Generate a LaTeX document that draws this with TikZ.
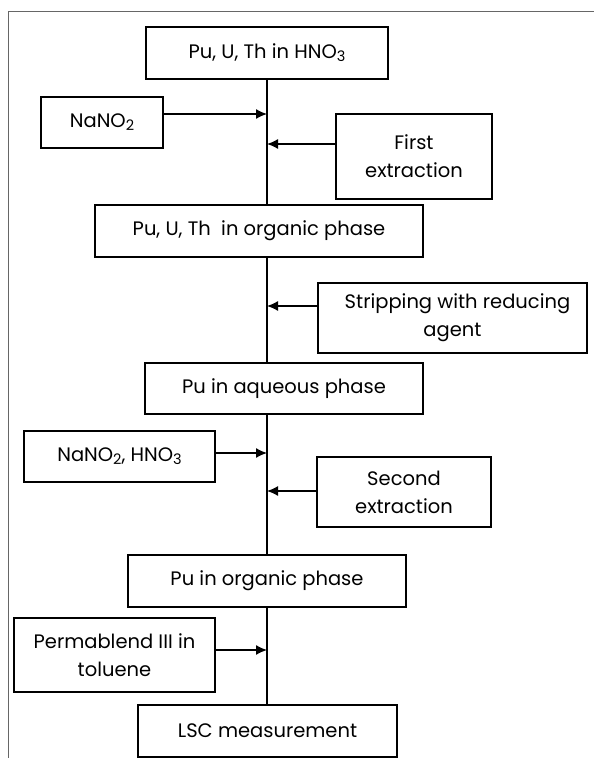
\documentclass[tikz,border=0pt]{standalone}
\usepackage{fontspec}
\setmainfont{Poppins}
\usetikzlibrary{arrows.meta}
\newcommand{\subn}[1]{\raisebox{-0.3ex}{\fontsize{14.5}{14.5}\selectfont #1}}
\begin{document}
\begin{tikzpicture}[x=1pt,y=-1pt,
  box/.style={draw=black, line width=1.2pt, minimum width=#1, inner sep=0pt, align=center,
    font=\fontsize{19.5}{28}\selectfont},
  flow/.style={line width=1.5pt},
  feed/.style={line width=1.3pt, -{Latex[length=11pt,width=10pt]}}]
\useasboundingbox (0,0) rectangle (594,758);
% frame
\draw[gray!80!black, line width=0.8pt] (8,758) -- (8,11) -- (594,11);
% boxes
\node[box=242pt, minimum height=52pt] (top) at (267,53) {Pu, U, Th in HNO\subn{3}};
\node[box=122pt, minimum height=51pt] (nano) at (102,122.5) {NaNO\subn{2}};
\node[box=156pt, minimum height=85pt] (first) at (414,156.5) {First\\extraction};
\node[box=328pt, minimum height=52pt] (org1) at (259,231) {Pu, U, Th \ in organic phase};
\node[box=269pt, minimum height=70pt] (strip) at (452.5,318) {\hspace*{10pt}Stripping with reducing\\agent};
\node[box=278pt, minimum height=51pt] (aq) at (284,388.5) {Pu in aqueous phase};
\node[box=191pt, minimum height=51pt] (nanh) at (119.5,456.5) {NaNO\subn{2}, HNO\subn{3}};
\node[box=174pt, minimum height=70pt] (second) at (404,492) {Second\\extraction};
\node[box=278pt, minimum height=52pt] (org2) at (267,581) {Pu in organic phase};
\node[box=201pt, minimum height=74pt] (perm) at (114.5,655) {Permablend III in\\toluene};
\node[box=259pt, minimum height=52pt] (lsc) at (267.5,731) {LSC measurement};
% main flow line
\draw[flow] (top.south) -- (top.south |- org1.north);
\draw[flow] (top.south |- org1.south) -- (top.south |- aq.north);
\draw[flow] (top.south |- aq.south) -- (top.south |- org2.north);
\draw[flow] (top.south |- org2.south) -- (top.south |- lsc.north);
% junction points
\coordinate (j1) at (267,114);
\coordinate (j2) at (267,144);
\coordinate (j3) at (267,306);
\coordinate (j4) at (267,453);
\coordinate (j5) at (267,491);
\coordinate (j6) at (267,650);
\draw[feed] (nano.east |- j1) -- (j1);
\draw[feed] (first.west |- j2) -- (j2);
\draw[feed] (strip.west |- j3) -- (j3);
\draw[feed] (nanh.east |- j4) -- (j4);
\draw[feed] (second.west |- j5) -- (j5);
\draw[feed] (perm.east |- j6) -- (j6);
\end{tikzpicture}
\end{document}
